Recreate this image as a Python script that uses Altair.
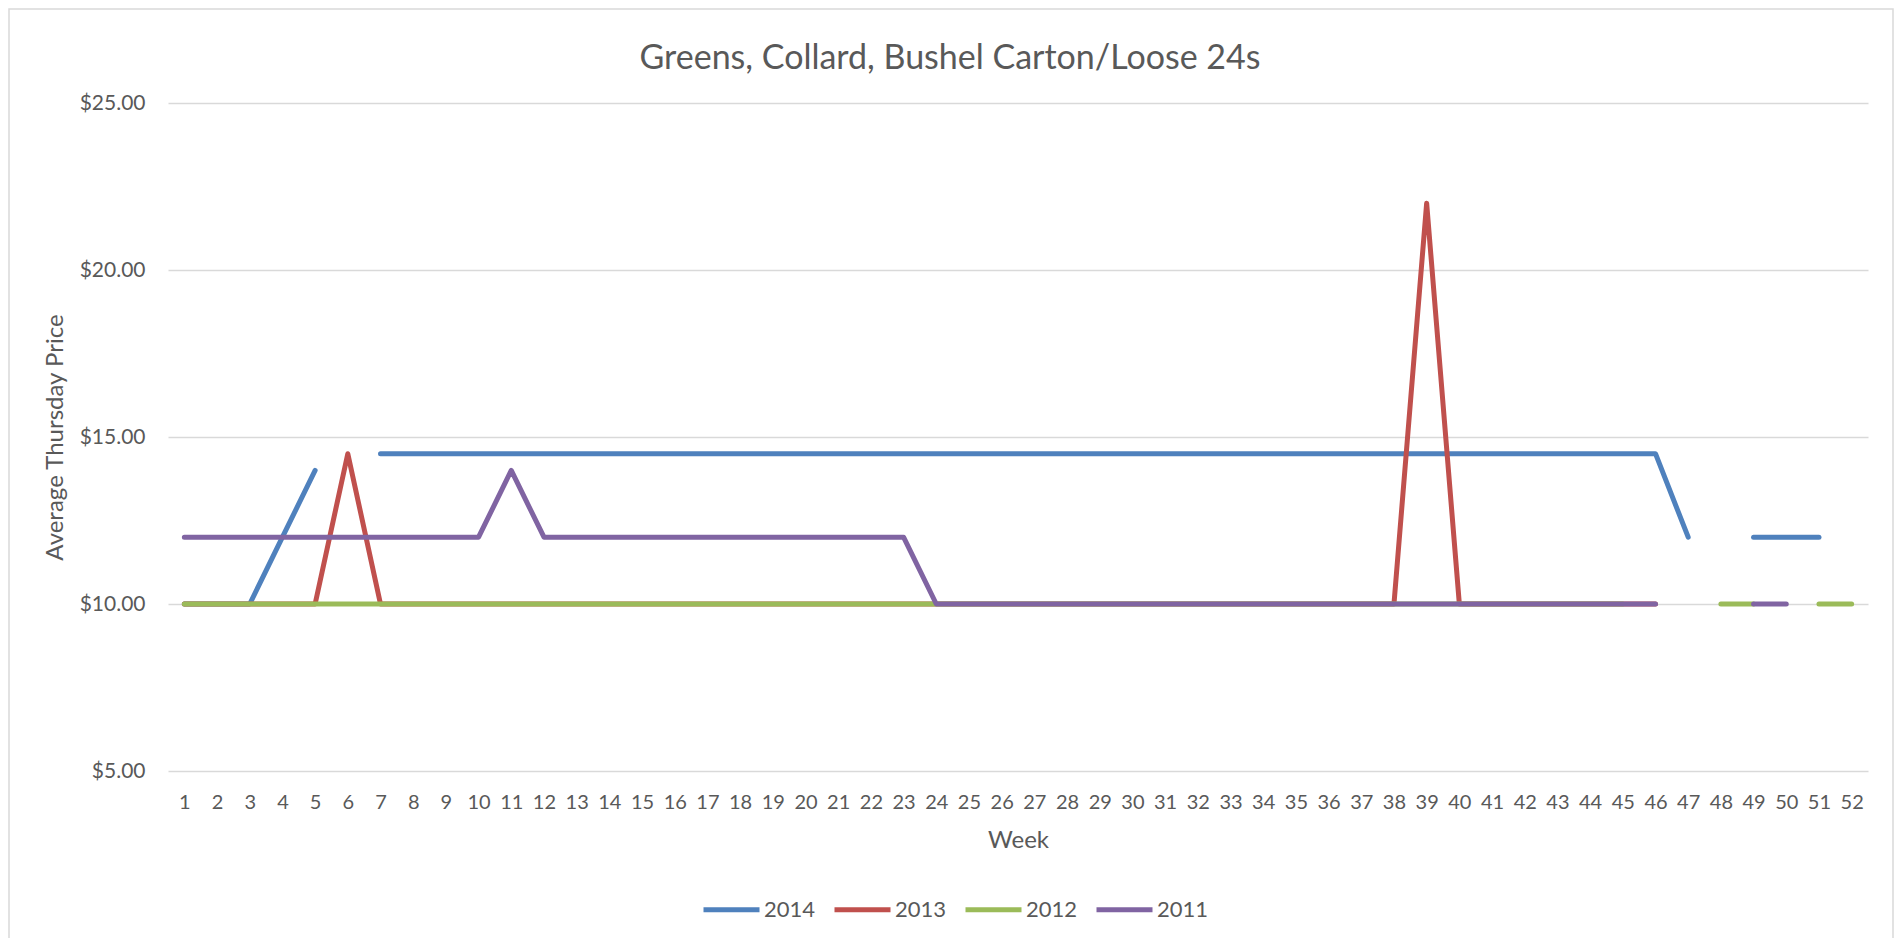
import altair as alt
import pandas as pd

weeks = list(range(1, 53))
series_names = ["2014", "2013", "2012", "2011"]
series_colors = ["#4F81BD", "#C0504D", "#9BBB59", "#8064A2"]
title_text = "Greens, Collard, Bushel Carton/Loose 24s"

N = None
p2014 = [10, 10, 10, 12, 14, N] + [14.5] * 40 + [12, N, 12, 12, 12, N]
p2013 = [10] * 5 + [14.5] + [10] * 32 + [22] + [10] * 7 + [N] * 6
p2012 = [10] * 45 + [N, N, 10, 10, N, 10, 10]
p2011 = [12] * 10 + [14] + [12] * 12 + [10] * 23 + [N, N, 10, 10, N, N]

values = {"2014": p2014, "2013": p2013, "2012": p2012, "2011": p2011}

rows = []
for name in series_names:
    seg = 0
    prev_none = True
    for w, v in zip(weeks, values[name]):
        if v is None:
            prev_none = True
            continue
        if prev_none:
            seg += 1
            prev_none = False
        rows.append({"Week": w, "Price": v, "Year": name, "seg": f"{name}-{seg}"})
df = pd.DataFrame(rows)

FONT = "Lato"
GREY = "#595959"

color_scale = alt.Scale(domain=series_names, range=series_colors)

x_enc = alt.X(
    "Week:Q",
    scale=alt.Scale(domain=[0.5, 52.5], nice=False, zero=False),
    axis=alt.Axis(
        values=weeks, grid=False, ticks=False, domain=False, labelFlush=False,
        labelFontSize=20, labelColor=GREY, labelFont=FONT, labelPadding=21,
        title="Week", titleFontSize=24, titleFont=FONT, titleColor=GREY,
        titleFontWeight="normal", titleY=69, titleBaseline="middle",
    ),
)
y_enc = alt.Y(
    "Price:Q",
    scale=alt.Scale(domain=[5, 25], nice=False, zero=False),
    axis=alt.Axis(
        values=[5, 10, 15, 20, 25], format="$.2f", grid=True, gridColor="#D9D9D9",
        gridWidth=1.5, ticks=False, domain=False, labelFontSize=21, labelColor=GREY,
        labelFont=FONT, labelPadding=23,
        title="Average Thursday Price", titleFontSize=24, titleFont=FONT,
        titleColor=GREY, titleFontWeight="normal", titleX=-113, titleY=334,
        titleBaseline="middle", titleAlign="center", titleAngle=270,
    ),
)

legend = alt.Legend(
    title=None, orient="none", direction="horizontal", legendX=533, legendY=776,
    symbolType="stroke", symbolSize=3136, symbolStrokeWidth=5, labelFontSize=22,
    labelFont=FONT, labelColor=GREY, labelOffset=2, columnPadding=8, padding=0,
)

layers = []
for name in series_names:
    layers.append(
        alt.Chart(df)
        .transform_filter(alt.datum.Year == name)
        .mark_line(strokeWidth=5, strokeCap="round", strokeJoin="round")
        .encode(
            x=x_enc,
            y=y_enc,
            color=alt.Color("Year:N", scale=color_scale, legend=legend),
            detail="seg:N",
        )
    )

border = alt.Chart(pd.DataFrame({"a": [0]})).mark_rect(
    filled=False, stroke="#D9D9D9", strokeWidth=1.5
).encode(
    x=alt.value(-159), x2=alt.value(1725), y=alt.value(-94), y2=alt.value(900)
)

title_mark = alt.Chart(pd.DataFrame({"t": [title_text]})).mark_text(
    font=FONT, fontSize=34, color=GREY, align="center", baseline="alphabetic"
).encode(
    text="t:N", x=alt.value(782), y=alt.value(-34)
)

chart = (
    alt.layer(border, *layers, title_mark)
    .properties(
        width=1700,
        height=668,
        autosize=alt.AutoSizeParams(type="none"),
        padding={"left": 160, "top": 95, "right": 26, "bottom": 167},
    )
    .configure_view(stroke=None)
)

chart.save("out.html", embed_options={"renderer": "svg", "actions": False})
